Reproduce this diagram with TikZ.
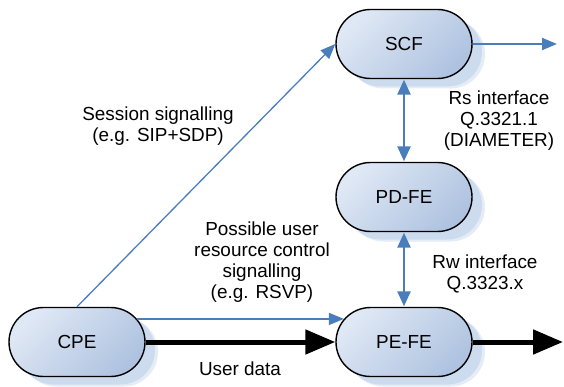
\documentclass[tikz,border=0pt]{standalone}
\usepackage{fontspec}
\setmainfont{Liberation Sans}
\usetikzlibrary{shapes.misc,arrows.meta,shadows}

\definecolor{fillA}{HTML}{DFE8F5}
\definecolor{fillB}{HTML}{AFC3E0}
\definecolor{shadowblue}{HTML}{C3D4EB}
\definecolor{linkblue}{HTML}{4A7EBB}

\tikzset{
  fe/.style={
    rounded rectangle, draw=black, line width=1.4pt,
    minimum width=136pt, minimum height=69pt, inner sep=0pt,
    top color=fillA, bottom color=fillB, shading angle=45,
    general shadow={fill=shadowblue, opacity=0.45, shadow xshift=13pt, shadow yshift=-10pt},
    general shadow={fill=shadowblue, opacity=0.7, shadow xshift=10pt, shadow yshift=-8pt},
    font=\fontsize{18.9}{21}\selectfont
  },
  lbl/.style={align=center, inner sep=0pt, font=\fontsize{18.9}{21}\selectfont},
  sig/.style={draw=linkblue, line width=1.3pt, -{Triangle[length=15pt,width=12pt]}},
  iface/.style={draw=linkblue, line width=2.6pt,
    {Triangle[length=15pt,width=13pt]}-{Triangle[length=15pt,width=13pt]}, shorten <=0.5pt, shorten >=0.5pt},
  data/.style={draw=black, line width=5pt, -{Triangle[length=30pt,width=24pt]}}
}

\begin{document}
\begin{tikzpicture}[x=1pt,y=-1pt]
  \useasboundingbox (0,0) rectangle (564,387);

  % functional entities
  \node[fe] (scf)  at (404,44)  {SCF};
  \node[fe] (pdfe) at (404,197) {PD-FE};
  \node[fe] (cpe)  at (77,342)  {CPE};
  \node[fe] (pefe) at (404,342) {PE-FE};

  % free ends of the outgoing arrows
  \coordinate (scfout) at (557,44);
  \coordinate (pefeout) at (563,342);

  % signalling paths
  \draw[sig] (cpe.north) -- (scf.west);
  \draw[sig, line width=2pt] (scf.east) -- (scfout);
  \draw[sig, line width=1.5pt] (cpe.21) -- (pefe.159);

  % interfaces
  \draw[iface] (scf.south) -- (pdfe.north);
  \draw[iface] (pdfe.south) -- (pefe.north);

  % user data path
  \draw[data] (cpe.east) -- (pefe.west);
  \draw[data] (pefe.east) -- (pefeout);

  % labels
  \node[lbl] (lsess) at (158,126) {Session signalling\\(e.g. SIP+SDP)};
  \node[lbl] (lres)  at (262,262) {Possible user\\resource control\\signalling\\(e.g. RSVP)};
  \node[lbl] (lrs)   at (499,121) {Rs interface\\Q.3321.1\\(DIAMETER)};
  \node[lbl] (lrw)   at (485,274) {Rw interface\\Q.3323.x};
  \node[lbl] (ldata) at (240,369) {User data};
\end{tikzpicture}
\end{document}
